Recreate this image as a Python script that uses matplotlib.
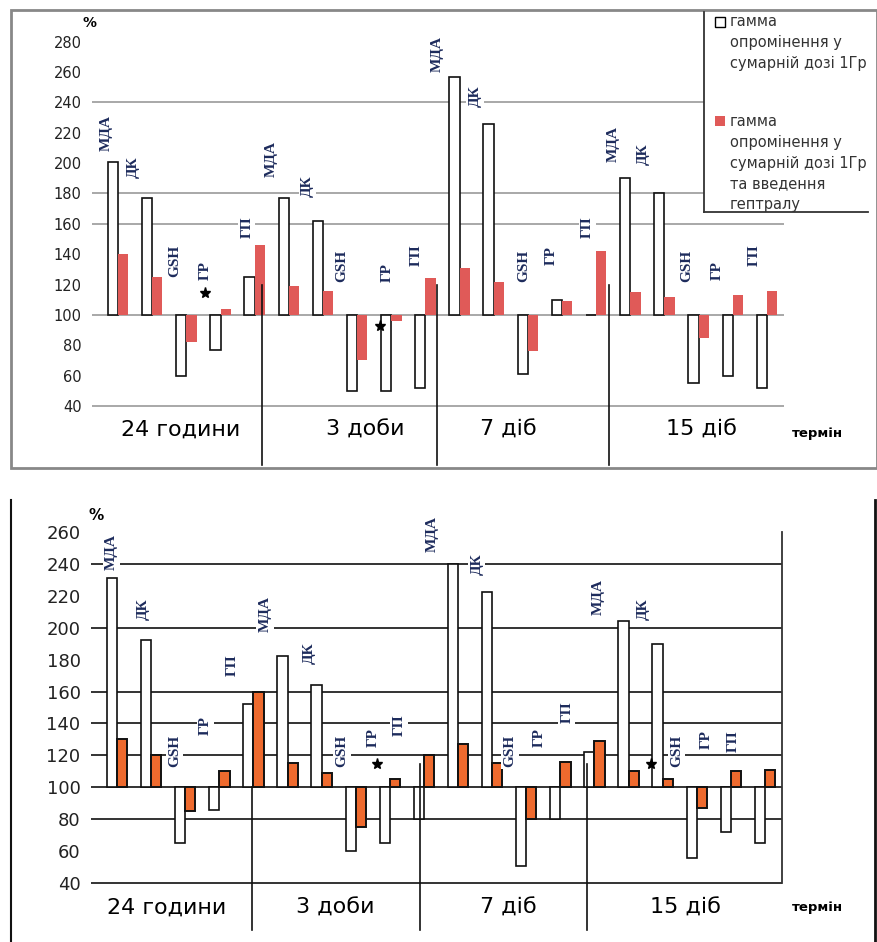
import matplotlib.pyplot as plt
import numpy as np
from matplotlib.lines import Line2D
from matplotlib.patches import Rectangle

# data (% of control, control = 100)
params = ['МДА', 'ДК', 'GSH', 'ГР', 'ГП']
periods = ['24 години', '3 доби', '7 діб', '15 діб']

# top panel
top_gamma = [201, 177, 60, 77, 125,
             177, 162, 50, 50, 52,
             257, 226, 61, 110, 100,
             190, 180, 55, 60, 52]
top_heptral = [140, 125, 82, 104, 146,
               119, 116, 70, 96, 124,
               131, 122, 76, 109, 142,
               115, 112, 85, 113, 116]

# bottom panel
bot_gamma = [231, 192, 65, 86, 152,
             182, 164, 60, 65, 80,
             240, 222, 51, 80, 122,
             204, 190, 56, 72, 65]
bot_heptral = [130, 120, 85, 110, 160,
               115, 109, 75, 105, 120,
               127, 115, 80, 116, 129,
               110, 105, 87, 110, 111]

legend_1 = ['гамма', 'опромінення у', 'сумарній дозі 1Гр']
legend_2 = ['гамма', 'опромінення у', 'сумарній дозі 1Гр', 'та введення', 'гептралу']

# layout (label placement)
top_lab_x = [-0.35, 0.45, 1.65, 2.55, 3.77, 4.50, 5.54, 6.55, 7.87, 8.73,
             9.35, 10.45, 11.89, 12.70, 13.74, 14.50, 15.38, 16.65, 17.54, 18.62]
top_lab_y = [208, 190, 125, 123, 151, 191, 178, 122, 122, 132,
             260, 237, 122, 133, 151, 201, 199, 122, 123, 132]
bot_lab_x = [-0.16, 0.76, 1.69, 2.60, 3.37, 4.34, 5.63, 6.60, 7.50, 8.27,
             9.24, 10.55, 11.52, 12.38, 13.19, 14.11, 15.43, 16.41, 17.29, 18.06]
bot_lab_y = [236, 205, 113, 133, 170, 197, 177, 113, 125, 132,
             247, 233, 113, 125, 140, 208, 205, 113, 124, 122]

W, H = 878, 942
fig = plt.figure(figsize=(W / 100, H / 100), dpi=100)
fig.patch.set_facecolor('white')


def fx(px):
    return px / W


def fy(py):
    return 1 - py / H


def fline(x0, y0, x1, y1, **kw):
    fig.add_artist(Line2D([fx(x0), fx(x1)], [fy(y0), fy(y1)], transform=fig.transFigure, **kw))


def panel(box, gamma, hept, ylim, yticks, grid, gridcol, tickfs, hcolor, hedge, lab_x, lab_y):
    l, t, r, b = box
    ax = fig.add_axes([fx(l), fy(b), fx(r) - fx(l), fy(t) - fy(b)])
    x = np.arange(len(gamma))
    w = 0.3
    g = np.array(gamma) - 100
    h = np.array(hept) - 100
    ax.hlines(grid, -0.75, len(gamma) - 0.5, color=gridcol, lw=1.2, clip_on=False, zorder=1)
    ax.bar(x - w / 2, g, width=w, bottom=100, facecolor='white', edgecolor='#111',
           lw=1.2, zorder=3)
    ax.bar(x + w / 2, h, width=w, bottom=100, facecolor=hcolor,
           edgecolor=hedge, lw=1.4 if hedge != 'none' else 0, zorder=3)
    for i in range(len(gamma)):
        ax.text(lab_x[i], lab_y[i], params[i % 5], rotation=90, ha='center', va='bottom',
                family='Liberation Serif', fontweight='bold', fontsize=11, color='#1d2b5c',
                bbox=dict(facecolor='white', edgecolor='none', pad=1.5), zorder=4)
    ax.set_xlim(-0.5, len(gamma) - 0.5)
    ax.set_ylim(*ylim)
    ax.set_yticks(yticks)
    ax.set_yticklabels([str(v) for v in yticks], fontsize=tickfs, color='#222')
    ax.tick_params(axis='y', length=0, pad=14)
    ax.set_xticks([])
    for s in ax.spines.values():
        s.set_visible(False)
    ax.patch.set_alpha(0)
    return ax


# ---- top panel ----
ax1 = panel((101, 41.7, 784, 406), top_gamma, top_heptral, (40, 280),
            list(range(40, 281, 20)), [240, 180, 160, 100, 40], '#9a9a9a', 10.5,
            '#e05a58', 'none', top_lab_x, top_lab_y)
ax1.plot([2.55, 7.67], [114.3, 92.6], marker='*', ls='none', color='black', ms=8, zorder=5)

fig.add_artist(Rectangle((fx(11), fy(468)), fx(877) - fx(11), fy(10) - fy(468),
                         transform=fig.transFigure, fill=False, edgecolor='#888', lw=2))
fig.text(fx(90), fy(23), '%', fontsize=10, fontweight='bold', ha='center', va='center')
for px in [262, 437, 609]:
    fline(px, 285, px, 465, color='#111', lw=1.2)
for px, label in zip([181, 365, 508, 702], periods):
    fig.text(fx(px), fy(430), label, fontsize=16, ha='center', va='center')
fig.text(fx(817), fy(433), 'термін', fontsize=9.5, fontweight='bold', ha='center', va='center')

# legend box (white, covers the grid)
fig.add_artist(Rectangle((fx(704), fy(212)), fx(874) - fx(704), fy(12) - fy(212),
                         transform=fig.transFigure, facecolor='white', edgecolor='none', zorder=5))
fline(704, 12, 704, 212, color='#333', lw=1.3, zorder=6)
fline(704, 212, 868, 212, color='#333', lw=1.3, zorder=6)
fig.add_artist(Rectangle((fx(715), fy(27)), fx(10), 10 / H, transform=fig.transFigure,
                         facecolor='white', edgecolor='black', lw=1, zorder=6))
fig.add_artist(Rectangle((fx(715), fy(126)), fx(10), 10 / H, transform=fig.transFigure,
                         facecolor='#e05a58', edgecolor='none', zorder=6))
for i, s in enumerate(legend_1):
    fig.text(fx(730), fy(22 + 20.5 * i), s, fontsize=10.5,
             ha='left', va='center', color='#333', zorder=7)
for i, s in enumerate(legend_2):
    fig.text(fx(730), fy(122 + 20.5 * i), s, fontsize=10.5,
             ha='left', va='center', color='#333', zorder=7)

# ---- bottom panel ----
ax2 = panel((100, 531.7, 782, 883.3), bot_gamma, bot_heptral, (40, 260),
            list(range(40, 261, 20)), [240, 200, 160, 140, 120, 100, 80, 40], '#111', 13,
            '#ee6a2e', '#111', bot_lab_x, bot_lab_y)
ax2.plot([7.62, 15.65], [114.6, 114.6], marker='*', ls='none', color='black', ms=8, zorder=5)
fline(782, 532, 782, 883, color='#333', lw=1.3)

fig.text(fx(96), fy(516), '%', fontsize=11, fontweight='bold', ha='center', va='center')
for px, py0 in zip([252, 420, 587], [787, 764, 764]):
    fline(px, py0, px, 930, color='#111', lw=1.2)
for px, label in zip([167, 335, 508, 685], periods):
    fig.text(fx(px), fy(908), label, fontsize=16, ha='center', va='center')
fig.text(fx(817), fy(908), 'термін', fontsize=9.5, fontweight='bold', ha='center', va='center')

fline(11, 500, 11, 942, color='#111', lw=1.5)
fline(875, 500, 875, 942, color='#111', lw=2)

plt.savefig('out.png', dpi=100)
